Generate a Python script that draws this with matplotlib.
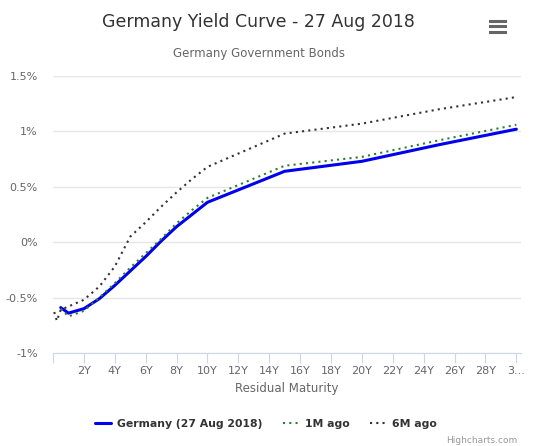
import matplotlib
matplotlib.use('Agg')
import matplotlib.pyplot as plt
from matplotlib.lines import Line2D

# yields in %, maturities in years
germany_years = [0.5, 1, 2, 3, 4, 5, 6, 7, 8, 9, 10, 15, 20, 25, 30]
germany = [-0.59, -0.64, -0.60, -0.51, -0.39, -0.26, -0.13, 0.01, 0.14, 0.25, 0.36, 0.64, 0.73, 0.88, 1.02]

m1_years = [0.5, 1, 2, 3, 4, 5, 6, 7, 8, 9, 10, 15, 20, 25, 30]
m1_ago = [-0.60, -0.67, -0.62, -0.50, -0.37, -0.23, -0.10, 0.03, 0.17, 0.29, 0.40, 0.69, 0.77, 0.92, 1.06]

m6_years = [0.08, 0.25, 0.5, 1, 2, 3, 4, 5, 6, 7, 8, 9, 10, 15, 20, 25, 30]
m6_ago = [-0.63, -0.71, -0.61, -0.58, -0.52, -0.40, -0.22, 0.05, 0.18, 0.32, 0.45, 0.57, 0.68, 0.98, 1.07, 1.20, 1.31]

x_ticks = list(range(0, 31, 2))
x_labels = [''] + [f'{t}Y' for t in x_ticks[1:-1]] + ['3...']
y_ticks = [-1, -0.5, 0, 0.5, 1, 1.5]
y_labels = ['-1%', '-0.5%', '0%', '0.5%', '1%', '1.5%']

fig = plt.figure(figsize=(5.36, 4.46), dpi=100)
ax = fig.add_axes([53 / 536, 93 / 446, 468 / 536, 277 / 446])

ax.plot(germany_years, germany, color='#0000ee', lw=2.2, solid_capstyle='round', label='Germany (27 Aug 2018)')
ax.plot(m1_years, m1_ago, color='#2f7d2f', lw=1.5, dashes=(1, 2), label='1M ago')
ax.plot(m6_years, m6_ago, color='#333333', lw=1.5, dashes=(1, 2), label='6M ago')

ax.set_xlim(0, 30.3)
ax.set_ylim(-1, 1.5)
ax.set_xticks(x_ticks)
ax.set_xticklabels(x_labels)
ax.set_yticks(y_ticks)
ax.set_yticklabels(y_labels)

ax.grid(axis='y', color='#e6e6e6', lw=1)
ax.set_axisbelow(True)
for s in ['top', 'right', 'left']:
    ax.spines[s].set_visible(False)
ax.spines['bottom'].set_color('#ccd6eb')
ax.tick_params(axis='x', colors='#ccd6eb', length=7, direction='out', labelsize=8, labelcolor='#666666', pad=2)
ax.tick_params(axis='y', length=0, labelsize=8, labelcolor='#666666', pad=11)

ax.set_xlabel('Residual Maturity', fontsize=8.5, color='#666666', labelpad=5)

fig.text(0.483, 1 - 22 / 446, 'Germany Yield Curve - 27 Aug 2018', ha='center', va='center',
         fontsize=12.5, color='#333333')
fig.text(0.483, 1 - 53 / 446, 'Germany Government Bonds', ha='center', va='center',
         fontsize=8.5, color='#666666')

# menu icon
for yy in [20.7, 26, 31.5]:
    fig.add_artist(Line2D([490 / 536, 505 / 536], [1 - yy / 446, 1 - yy / 446],
                          color='#666666', lw=2.2, transform=fig.transFigure))

leg = fig.legend(loc='center', bbox_to_anchor=(266 / 536, 1 - 424 / 446), ncol=3, frameon=False,
                 handlelength=1.4, columnspacing=1.9, handletextpad=0.6,
                 prop={'size': 7.8, 'weight': 'bold'})
for t in leg.get_texts():
    t.set_color('#333333')

fig.text(0.965, 0.003, 'Highcharts.com', ha='right', va='bottom', fontsize=6.5, color='#999999')

fig.savefig('out.png', dpi=100)
